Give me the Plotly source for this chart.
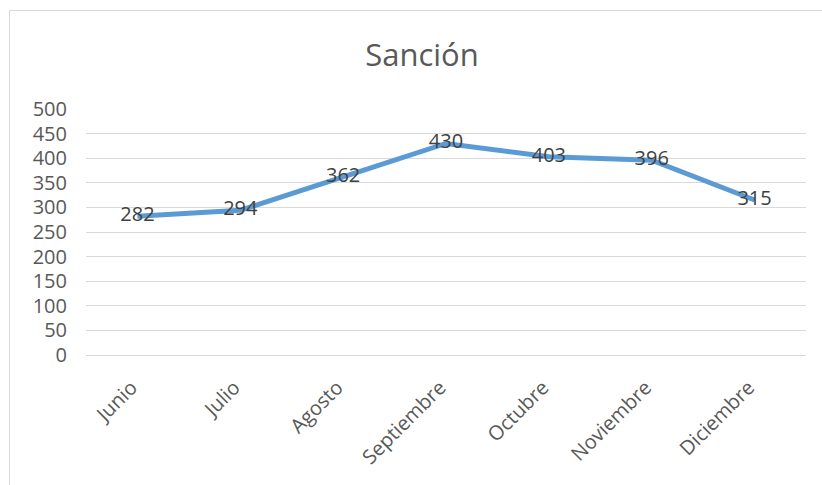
import plotly.graph_objects as go

# Monthly sanction counts
months = ["Junio", "Julio", "Agosto", "Septiembre", "Octubre", "Noviembre", "Diciembre"]
sanciones = [282, 294, 362, 430, 403, 396, 315]
y_ticks = [0, 50, 100, 150, 200, 250, 300, 350, 400, 450, 500]

W, H = 822, 485
ML, MR, MT, MB = 86, 16, 109, 130
plot_w = W - ML - MR
plot_h = H - MT - MB


def px_to_paper_x(px):
    return (px - ML) / plot_w


def px_to_paper_y(py):
    return (H - MB - py) / plot_h


fig = go.Figure()
fig.add_trace(go.Scatter(
    x=months,
    y=sanciones,
    mode="lines+text",
    line=dict(color="#5B9BD5", width=5),
    text=[str(v) for v in sanciones],
    textposition="middle center",
    textfont=dict(family="Open Sans", size=20, color="#404040"),
    hoverinfo="x+y",
    showlegend=False,
    cliponaxis=False,
))

# Chart area outline
fig.add_shape(
    type="rect", xref="paper", yref="paper",
    x0=px_to_paper_x(9.5), x1=px_to_paper_x(840),
    y0=px_to_paper_y(500), y1=px_to_paper_y(10.5),
    line=dict(color="#D9D9D9", width=1),
    fillcolor="rgba(0,0,0,0)", layer="below",
)

fig.update_layout(
    width=W, height=H,
    margin=dict(l=ML, r=MR, t=MT, b=MB),
    paper_bgcolor="white",
    plot_bgcolor="white",
    title=dict(
        text="Sanción",
        font=dict(family="Open Sans", size=31, color="#595959"),
        xref="container", x=422 / W, xanchor="center",
        yref="container", y=1 - 55 / H, yanchor="middle",
    ),
    xaxis=dict(
        type="category",
        range=[-0.5, len(months) - 0.5],
        tickangle=-45,
        tickfont=dict(family="Open Sans", size=20, color="#595959"),
        showgrid=False,
        showline=False,
        zeroline=False,
        ticks="",
        ticklabelstandoff=16,
        ticklabelshift=-6,
    ),
    yaxis=dict(
        range=[0, 500],
        tickvals=y_ticks,
        tickfont=dict(family="Open Sans", size=20, color="#595959"),
        showgrid=True,
        gridcolor="#D9D9D9",
        gridwidth=1,
        zeroline=True,
        zerolinecolor="#D9D9D9",
        zerolinewidth=1,
        showline=False,
        ticks="",
        ticklabelstandoff=18,
    ),
)

fig.write_html("out.html")
